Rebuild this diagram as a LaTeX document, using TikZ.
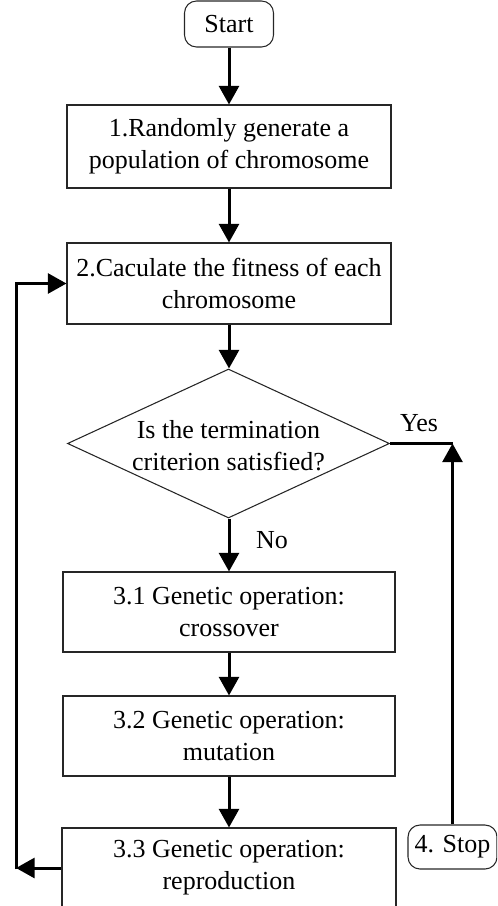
\documentclass[tikz,border=0pt]{standalone}
\usepackage{fontspec}
\setmainfont{Liberation Serif}
\usetikzlibrary{shapes.geometric,arrows.meta}
\begin{document}
\begin{tikzpicture}[x=0.75pt,y=-0.75pt,
  font=\fontsize{19.5}{24}\selectfont,
  box/.style={draw=black!85,line width=0.8pt,align=center,inner sep=0pt},
  term/.style={box,rounded corners=9pt},
  decision/.style={diamond,draw=black!85,line width=0.8pt,inner sep=0pt,minimum width=241.5pt,minimum height=111.75pt},
  conn/.style={line width=2.25pt,-{Triangle[width=15pt,length=14pt]}},
  plainline/.style={line width=2.25pt,line join=miter}]
\useasboundingbox (0,0) rectangle (497,906);
\clip (0,0) rectangle (497,906);
\node[term,minimum width=66.75pt,minimum height=34.5pt] (start) at (229,24) {Start};
\node[box,minimum width=243pt,minimum height=62.25pt] (b1) at (229,146.5) {1.Randomly generate a\\population of chromosome};
\node[box,minimum width=243pt,minimum height=60.75pt] (b2) at (229,283.5) {2.Caculate the fitness of each\\chromosome};
\node[decision] (dec) at (228.5,443.5) {};
\node[align=center,inner sep=0pt] (dectext) at (228.5,446) {Is the termination\\criterion satisfied?};
\node[box,minimum width=249pt,minimum height=60pt] (b31) at (229,612) {3.1 Genetic operation:\\crossover};
\node[box,minimum width=249pt,minimum height=60pt] (b32) at (229,736) {3.2 Genetic operation:\\mutation};
\node[box,minimum width=250.5pt,minimum height=60pt] (b33) at (229,868) {3.3 Genetic operation:\\reproduction};
\node[term,minimum width=66.75pt,minimum height=33pt] (stop) at (452.5,847) {4. Stop};
\node[anchor=base,inner sep=0pt] (yes) at (419,431) {Yes};
\node[anchor=base,inner sep=0pt] (no) at (272,548) {No};
\coordinate (yc) at (stop.north |- dec.east);
\coordinate (lb) at (16,868);
\coordinate (lt) at (16,283.5);
\draw[conn] (start) -- (b1);
\draw[conn] (b1) -- (b2);
\draw[conn] (b2.south) -- (b2.south |- dec.north);
\draw[conn] (b2.south |- dec.south) -- (b31.north);
\draw[conn] (b31) -- (b32);
\draw[conn] (b32) -- (b33);
\draw[plainline] (dec.east) -- (yc);
\draw[conn] (stop.north) -- (yc);
\draw[conn] (b33.west) -- (lb);
\draw[plainline] ([yshift=-1.1pt]lb) -- (lt) -- ([xshift=-16pt]b2.west);
\draw[conn] ([xshift=-17pt]b2.west) -- (b2.west);
\end{tikzpicture}
\end{document}
